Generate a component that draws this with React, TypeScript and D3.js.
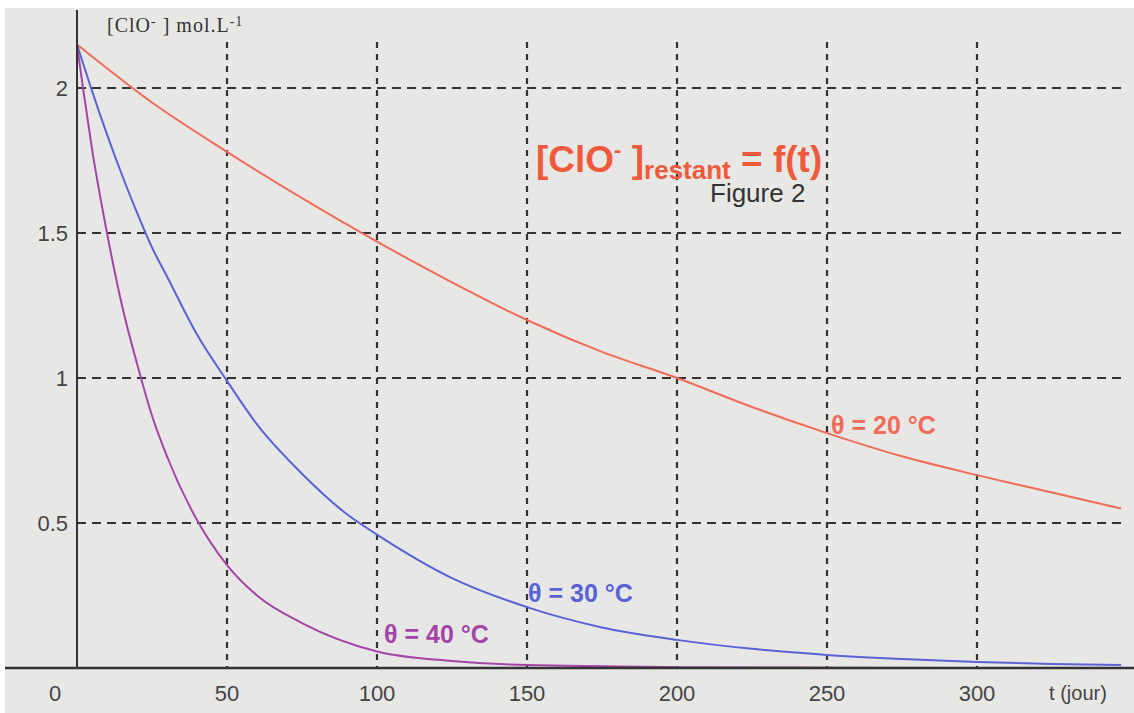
import React from 'react';
import * as d3 from 'd3';

// values: t in days, [ClO-] in mol/L
const t20 = [0, 25, 50, 75, 100, 125, 150, 175, 200, 225, 250, 275, 300, 325, 348];
const c20 = [2.15, 1.95, 1.78, 1.62, 1.47, 1.33, 1.2, 1.09, 1.0, 0.9, 0.81, 0.73, 0.665, 0.605, 0.55];

const t30 = [0, 5, 10, 15, 20, 25, 30, 40, 50, 60, 75, 90, 100, 125, 150, 175, 200, 225, 250, 275, 300, 325, 348];
const c30 = [2.15, 1.99, 1.84, 1.7, 1.57, 1.45, 1.35, 1.15, 0.99, 0.84, 0.67, 0.53, 0.46, 0.31, 0.21, 0.14, 0.097, 0.066, 0.045, 0.031, 0.021, 0.014, 0.01];

const t40 = [0, 2, 5, 10, 15, 20, 25, 30, 40, 50, 60, 75, 100, 125, 150, 200, 250, 300, 348];
const c40 = [2.15, 2.0, 1.79, 1.5, 1.25, 1.05, 0.87, 0.73, 0.51, 0.355, 0.25, 0.155, 0.057, 0.024, 0.01, 0.003, 0.001, 0, 0];

const xTicks = [50, 100, 150, 200, 250, 300];
const yTicks = [0.5, 1, 1.5, 2];

const W = 1134;
const H = 713;

const RED = '#f26a58';
const BLUE = '#5a62d6';
const PURPLE = '#a544a8';

export default function App() {
  const x = d3.scaleLinear().domain([0, 300]).range([77, 977]);
  const y = d3.scaleLinear().domain([0, 2]).range([668, 88]);

  const line = d3.line<[number, number]>()
    .x(d => x(d[0]))
    .y(d => y(d[1]))
    .curve(d3.curveMonotoneX);

  const series = [
    { t: t20, c: c20, color: RED },
    { t: t30, c: c30, color: BLUE },
    { t: t40, c: c40, color: PURPLE },
  ];

  const sans = '"Liberation Sans", Arial, sans-serif';

  return (
    <svg width={W} height={H} style={{ position: 'absolute', left: 0, top: 0 }}>
      <rect x={0} y={0} width={W} height={H} fill="#ffffff" />
      <rect x={5} y={8} width={W - 5} height={H - 8} fill="#e7e8e5" />

      {/* grid */}
      {xTicks.map(v => (
        <line key={'gx' + v} x1={x(v)} x2={x(v)} y1={42} y2={668}
          stroke="#333" strokeWidth={2.2} strokeDasharray="6 6" />
      ))}
      {yTicks.map(v => (
        <line key={'gy' + v} x1={x(0)} x2={1122} y1={y(v)} y2={y(v)}
          stroke="#333" strokeWidth={2.2} strokeDasharray="9 6" />
      ))}

      {/* curves */}
      {series.map((s, i) => (
        <path key={i} d={line(s.t.map((t, j) => [t, s.c[j]] as [number, number])) || ''}
          fill="none" stroke={s.color} strokeWidth={2} />
      ))}

      {/* axes */}
      <line x1={5} x2={W} y1={668} y2={668} stroke="#333" strokeWidth={2.5} />
      <line x1={x(0)} x2={x(0)} y1={10} y2={668} stroke="#333" strokeWidth={2} />

      {/* tick labels */}
      {yTicks.map(v => (
        <text key={'ly' + v} x={68} y={y(v) + 8} textAnchor="end" fontFamily={sans}
          fontSize={22} fill="#444">{String(v)}</text>
      ))}
      <text x={55} y={701} textAnchor="middle" fontFamily={sans} fontSize={22} fill="#444">0</text>
      {xTicks.map(v => (
        <text key={'lx' + v} x={x(v)} y={701} textAnchor="middle" fontFamily={sans}
          fontSize={22} fill="#444">{String(v)}</text>
      ))}
      <text x={1078} y={700} textAnchor="middle" fontFamily={sans} fontSize={20} fill="#444">t (jour)</text>

      {/* y axis title */}
      <text x={107} y={32} fontFamily='"Liberation Serif", "DejaVu Serif", serif' fontSize={20}
        letterSpacing={1} fill="#333">
        [ClO<tspan fontSize={14} dy={-6}>-</tspan><tspan dy={6}> ] mol.L</tspan>
        <tspan fontSize={14} dy={-6}>-1</tspan>
      </text>

      {/* title */}
      <text x={536} y={172} fontFamily={sans} fontWeight="bold" fontSize={37} fill="#f05a3c">
        [ClO<tspan fontSize={22} dy={-15}>-</tspan><tspan dy={15}> ]</tspan>
        <tspan fontSize={26} dy={7}>restant</tspan>
        <tspan dy={-7}> = f(t)</tspan>
      </text>
      <text x={710} y={202} fontFamily={sans} fontSize={26} fill="#333">Figure 2</text>

      {/* curve labels */}
      <text x={831} y={434} fontFamily={sans} fontWeight="bold" fontSize={25} fill={RED}>θ = 20 °C</text>
      <text x={528} y={602} fontFamily={sans} fontWeight="bold" fontSize={25} fill={BLUE}>θ = 30 °C</text>
      <text x={384} y={643} fontFamily={sans} fontWeight="bold" fontSize={25} fill={PURPLE}>θ = 40 °C</text>
    </svg>
  );
}
